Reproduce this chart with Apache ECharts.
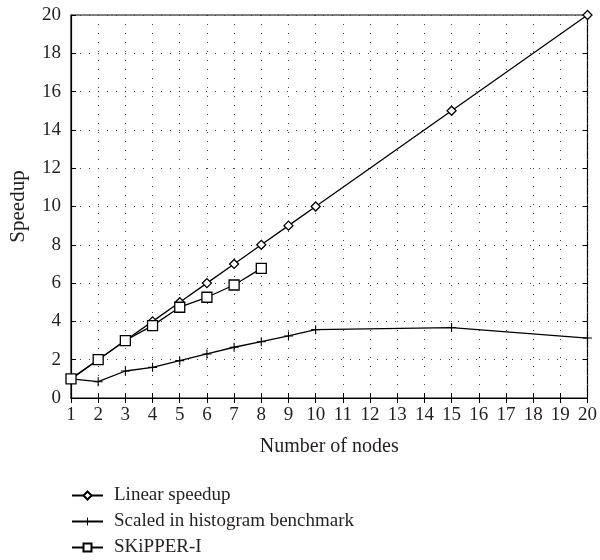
<!DOCTYPE html>
<html><head><meta charset="utf-8">
<script src="https://cdn.jsdelivr.net/npm/echarts@6/dist/echarts.min.js"></script>
<style>html,body{margin:0;padding:0;background:#fff}#c{width:600px;height:560px}</style>
</head><body><div id="c"></div>
<script>
var nodesLinear = [1,2,3,4,5,6,7,8,9,10,15,20];
var linearSpeedup = [1,2,3,4,5,6,7,8,9,10,15,20];
var nodesScaled = [1,2,3,4,5,6,7,8,9,10,15,20];
var scaledHistogram = [1,0.85,1.41,1.6,1.95,2.3,2.65,2.94,3.24,3.57,3.68,3.13];
var nodesSkipper = [1,2,3,4,5,6,7,8];
var skipper = [1,2,3,3.78,4.74,5.26,5.9,6.77];
var seriesNames = ['Linear speedup','Scaled in histogram benchmark','SKiPPER-I'];

function pairs(xs, ys){ return xs.map(function(x,i){return [x, ys[i]];}); }
var FONT = 'Liberation Serif';
var TXT = '#231f20';
var plus = 'path://M4.4,0h1.2v4.4h4.4v1.2h-4.4v4.4h-1.2v-4.4h-4.4v-1.2h4.4z';
var chart = echarts.init(document.getElementById('c'));
var axisCommon = {
  axisLine:{show:true, lineStyle:{color:'#000', width:1.2}},
  axisTick:{show:true, inside:true, length:5, lineStyle:{color:'#000'}},
  splitLine:{show:true, lineStyle:{color:'#444', type:[1,8], width:1}}
};
chart.setOption({
  animation:false,
  textStyle:{fontFamily:FONT},
  grid:{left:71, right:7, top:15, bottom:162, show:true, borderColor:'#000', borderWidth:1.2},
  legend:{
    orient:'vertical', left:71, top:486, padding:0, itemWidth:31, itemHeight:10, itemGap:7,
    height:74,
    data:seriesNames,
    textStyle:{fontFamily:FONT, fontSize:19, color:TXT, padding:[0,0,0,6]}
  },
  xAxis:[
    Object.assign({type:'value', min:1, max:20, interval:1,
      name:'Number of nodes', nameLocation:'middle', nameGap:39,
      nameTextStyle:{fontFamily:FONT, fontSize:20, color:TXT},
      axisLabel:{fontFamily:FONT, fontSize:19, color:TXT, margin:8}}, axisCommon),
    {type:'value', min:1, max:20, interval:1, position:'top', axisLine:{show:false},
      axisTick:{show:true, inside:true, length:5, lineStyle:{color:'#000'}}, axisLabel:{show:false}, splitLine:{show:false}}
  ],
  yAxis:[
    Object.assign({type:'value', min:0, max:20, interval:2,
      name:'Speedup', nameLocation:'middle', nameGap:42,
      nameTextStyle:{fontFamily:FONT, fontSize:21, color:TXT},
      axisLabel:{fontFamily:FONT, fontSize:19, color:TXT, margin:10}}, axisCommon),
    {type:'value', min:0, max:20, interval:2, position:'right', axisLine:{show:false},
      axisTick:{show:true, inside:true, length:5, lineStyle:{color:'#000'}}, axisLabel:{show:false}, splitLine:{show:false}}
  ],
  series:[
    {name:seriesNames[0], type:'line', data:pairs(nodesLinear, linearSpeedup),
      symbol:'diamond', symbolSize:9, showAllSymbol:true,
      lineStyle:{color:'#000', width:1.3},
      itemStyle:{color:'#fff', borderColor:'#000', borderWidth:1.3}},
    {name:seriesNames[1], type:'line', data:pairs(nodesScaled, scaledHistogram),
      symbol:plus, symbolSize:9, showAllSymbol:true,
      lineStyle:{color:'#000', width:1.3},
      itemStyle:{color:'#000', borderWidth:0}},
    {name:seriesNames[2], type:'line', data:pairs(nodesSkipper, skipper),
      symbol:'rect', symbolSize:10, showAllSymbol:true,
      lineStyle:{color:'#000', width:1.3},
      itemStyle:{color:'#fff', borderColor:'#000', borderWidth:1.3}}
  ]
});
</script></body></html>
